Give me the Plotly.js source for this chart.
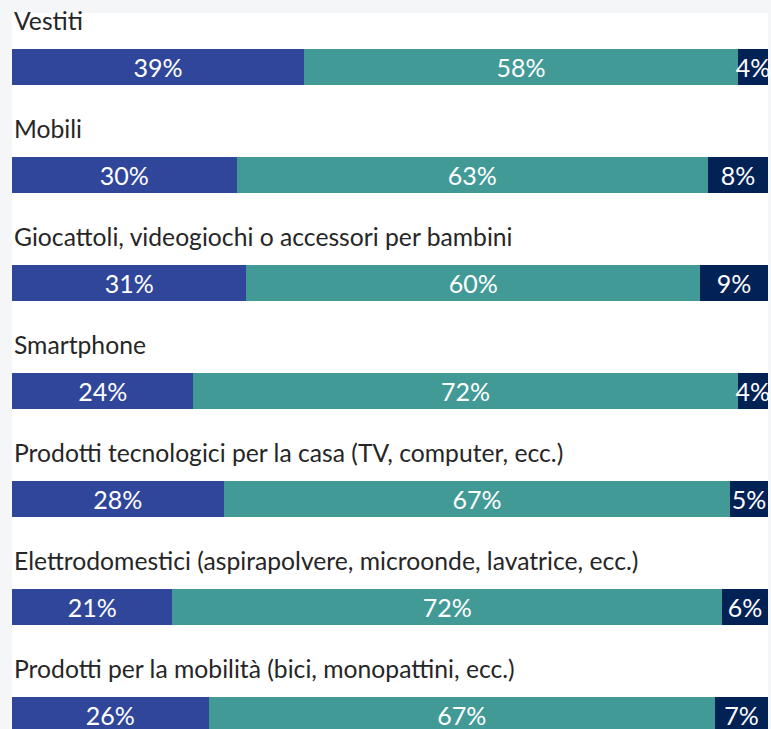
<!DOCTYPE html>
<html>
<head>
<meta charset="utf-8">
<script src="https://cdn.plot.ly/plotly-3.0.1.min.js"></script>
<style>html,body{margin:0;padding:0;background:#F5F6F8;}#chart{width:771px;height:729px;}</style>
</head>
<body>
<div id="chart"></div>
<script>
var categories = [
  "Vestiti",
  "Mobili",
  "Giocattoli, videogiochi o accessori per bambini",
  "Smartphone",
  "Prodotti tecnologici per la casa (TV, computer, ecc.)",
  "Elettrodomestici (aspirapolvere, microonde, lavatrice, ecc.)",
  "Prodotti per la mobilità (bici, monopattini, ecc.)"
];
var seriesA = [39, 30, 31, 24, 28, 21, 26];
var seriesB = [58, 63, 60, 72, 67, 72, 67];
var seriesC = [4, 8, 9, 4, 5, 6, 7];

var pos = categories.map(function(c, i){ return i; });
var fontFam = "Lato, 'Open Sans', sans-serif";

function mk(vals, color){
  return {
    type: 'bar', orientation: 'h',
    y: pos, x: vals,
    width: 0.3333,
    marker: {color: color, line: {width: 0}},
    text: vals.map(function(v){ return v + '%'; }),
    textposition: 'inside', insidetextanchor: 'middle', textangle: 0,
    constraintext: 'none', cliponaxis: false,
    textfont: {color: '#FFFFFF', size: 25, family: fontFam},
    hoverinfo: 'none'
  };
}
var data = [mk(seriesA, '#30469B'), mk(seriesB, '#429A97'), mk(seriesC, '#022256')];

var annotations = categories.map(function(c, i){
  return {
    xref: 'paper', yref: 'y', x: 0, y: i - 0.435,
    xanchor: 'left', yanchor: 'middle',
    text: c, showarrow: false,
    font: {size: 24.7, color: '#262626', family: fontFam}
  };
});

var layout = {
  width: 771, height: 729,
  margin: {l: 12, r: 3, t: 13, b: 0, pad: 0},
  paper_bgcolor: '#F5F6F8', plot_bgcolor: '#FFFFFF',
  barmode: 'stack', barnorm: 'percent',
  showlegend: false,
  xaxis: {range: [0, 100.001], visible: false, fixedrange: true},
  yaxis: {range: [6.1296, -0.5], visible: false, fixedrange: true},
  annotations: annotations
};
Plotly.newPlot('chart', data, layout, {displayModeBar: false, staticPlot: true});
</script>
</body>
</html>
